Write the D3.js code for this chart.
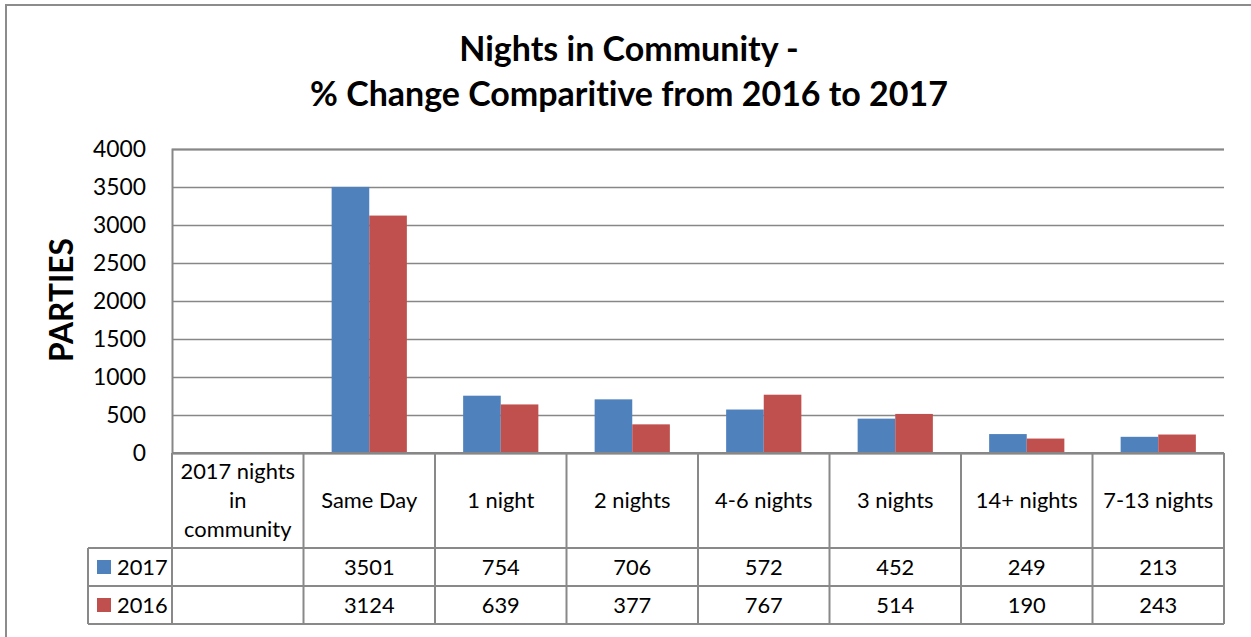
<!DOCTYPE html>
<html><head><meta charset="utf-8">
<script src="https://cdn.jsdelivr.net/npm/d3@7"></script>
<style>
html,body{margin:0;padding:0;background:#fff;}
svg{display:block;font-family:Lato,"Open Sans",sans-serif;font-variant-ligatures:none;}
text{font-variant-ligatures:none;font-feature-settings:"liga" 0,"clig" 0,"dlig" 0;}
</style></head>
<body>
<svg id="chart" width="1251" height="637"></svg>
<script>
const titleLines = ["Nights in Community -", "% Change Comparitive from 2016 to 2017"];
const yLabel = "PARTIES";
const categories = ["2017 nights\nin\ncommunity", "Same Day", "1 night", "2 nights", "4-6 nights", "3 nights", "14+ nights", "7-13 nights"];
const seriesNames = ["2017", "2016"];
const values2017 = [null, 3501, 754, 706, 572, 452, 249, 213];
const values2016 = [null, 3124, 639, 377, 767, 514, 190, 243];
const yTicks = [0, 500, 1000, 1500, 2000, 2500, 3000, 3500, 4000];
const colors = ["#4F81BD", "#C0504D"];

const seriesValues = [values2017, values2016];
const svg = d3.select("#chart");
const gridColor = "#878787";

// outer frame
svg.append("path").attr("d", "M6,640 L6,5 L1260,5").attr("fill", "none")
  .attr("stroke", "#8c8c8c").attr("stroke-width", 2);

const plotL = 172, plotR = 1224, plotT = 149, plotB = 453;
const x = d3.scaleBand().domain(d3.range(categories.length)).range([plotL, plotR]).paddingInner(0).paddingOuter(0);
const y = d3.scaleLinear().domain([0, 4000]).range([plotB, plotT]);
const groupW = x.bandwidth() * 0.572;
const x1 = d3.scaleBand().domain(seriesNames).range([0, groupW]);

function fit(sel, target) {
  const base = parseFloat(sel.attr("font-size"));
  const w = sel.node().getComputedTextLength();
  const fs = base * target / w;
  sel.attr("font-size", fs);
  return fs;
}

// gridlines
const yAxis = d3.axisLeft(y).tickValues(yTicks).tickSize(-(plotR - plotL)).tickFormat(d3.format("d")).tickPadding(26);
const ga = svg.append("g").attr("transform", `translate(${plotL},0)`).call(yAxis);
ga.select(".domain").attr("stroke", gridColor).attr("stroke-width", 2);
ga.selectAll(".tick line").attr("stroke", gridColor).attr("stroke-width", 1.6);
ga.selectAll(".tick text").attr("font-size", 23).attr("fill", "#000").attr("font-family", "Lato,'Open Sans',sans-serif");
const t4000 = ga.selectAll(".tick text").filter(d => d === 4000);
const tickFs = fit(t4000, 53);
ga.selectAll(".tick text").attr("font-size", tickFs);

// bars
const groups = svg.append("g").selectAll("g").data(seriesNames).join("g")
  .attr("fill", (d, i) => colors[i]);
groups.selectAll("rect").data((s, si) => seriesValues[si].map((v, ci) => ({s, v, ci})).filter(d => d.v != null))
  .join("rect")
  .attr("x", d => x(d.ci) + (x.bandwidth() - groupW) / 2 + x1(d.s))
  .attr("width", x1.bandwidth())
  .attr("y", d => y(d.v))
  .attr("height", d => y(0) - y(d.v));

// zero line
svg.append("line").attr("x1", plotL).attr("x2", plotR).attr("y1", plotB).attr("y2", plotB)
  .attr("stroke", gridColor).attr("stroke-width", 2);

// table
const tblL = 88, headB = 548, row1B = 586, row2B = 624;
const tg = svg.append("g").attr("stroke", "#898989").attr("stroke-width", 2).attr("fill", "none");
const bounds = d3.range(categories.length + 1).map(i => i < categories.length ? x(i) : plotR);
bounds.forEach(b => tg.append("line").attr("x1", b).attr("x2", b).attr("y1", plotB).attr("y2", row2B));
tg.append("line").attr("x1", tblL).attr("x2", tblL).attr("y1", headB).attr("y2", row2B);
[headB, row1B, row2B].forEach(yy => tg.append("line").attr("x1", tblL).attr("x2", plotR).attr("y1", yy).attr("y2", yy));

// header labels
const hg = svg.append("g").attr("text-anchor", "middle").attr("fill", "#000");
let tableFs = 20;
const probe = hg.append("text").attr("font-size", 20).text(categories[1]);
tableFs = fit(probe, 96);
probe.remove();
categories.forEach((c, i) => {
  const lines = c.split("\n");
  const cx = x(i) + x.bandwidth() / 2;
  const cy = (plotB + headB) / 2;
  const lh = 29;
  lines.forEach((ln, k) => {
    hg.append("text").attr("x", cx).attr("y", cy + (k - (lines.length - 1) / 2) * lh)
      .attr("dy", "0.35em").attr("font-size", tableFs).text(ln);
  });
});

// value rows with legend keys
const rowsY = [(headB + row1B) / 2, (row1B + row2B) / 2];
seriesNames.forEach((s, si) => {
  const ry = rowsY[si];
  svg.append("rect").attr("x", 97).attr("y", ry - 7).attr("width", 14).attr("height", 14).attr("fill", colors[si]);
  svg.append("text").attr("x", 117).attr("y", ry).attr("dy", "0.35em").attr("font-size", tableFs).attr("fill", "#000").text(s);
  seriesValues[si].forEach((v, ci) => {
    if (v == null) return;
    svg.append("text").attr("x", x(ci) + x.bandwidth() / 2).attr("y", ry).attr("dy", "0.35em")
      .attr("text-anchor", "middle").attr("font-size", tableFs).attr("fill", "#000").text(v);
  });
});

// title
const cxT = 629;
const t2 = svg.append("text").attr("x", cxT).attr("y", 106).attr("text-anchor", "middle")
  .attr("font-weight", "bold").attr("font-size", 28).attr("fill", "#000").text(titleLines[1]);
const titleFs = fit(t2, 638);
svg.append("text").attr("x", cxT).attr("y", 61).attr("text-anchor", "middle")
  .attr("font-weight", "bold").attr("font-size", titleFs).attr("fill", "#000").text(titleLines[0]);

// y label
const yl = svg.append("text").attr("transform", "translate(73,300) rotate(-90)").attr("text-anchor", "middle")
  .attr("font-weight", "bold").attr("font-size", 28).attr("fill", "#000").text(yLabel);
fit(yl, 124);
</script>
</body></html>
